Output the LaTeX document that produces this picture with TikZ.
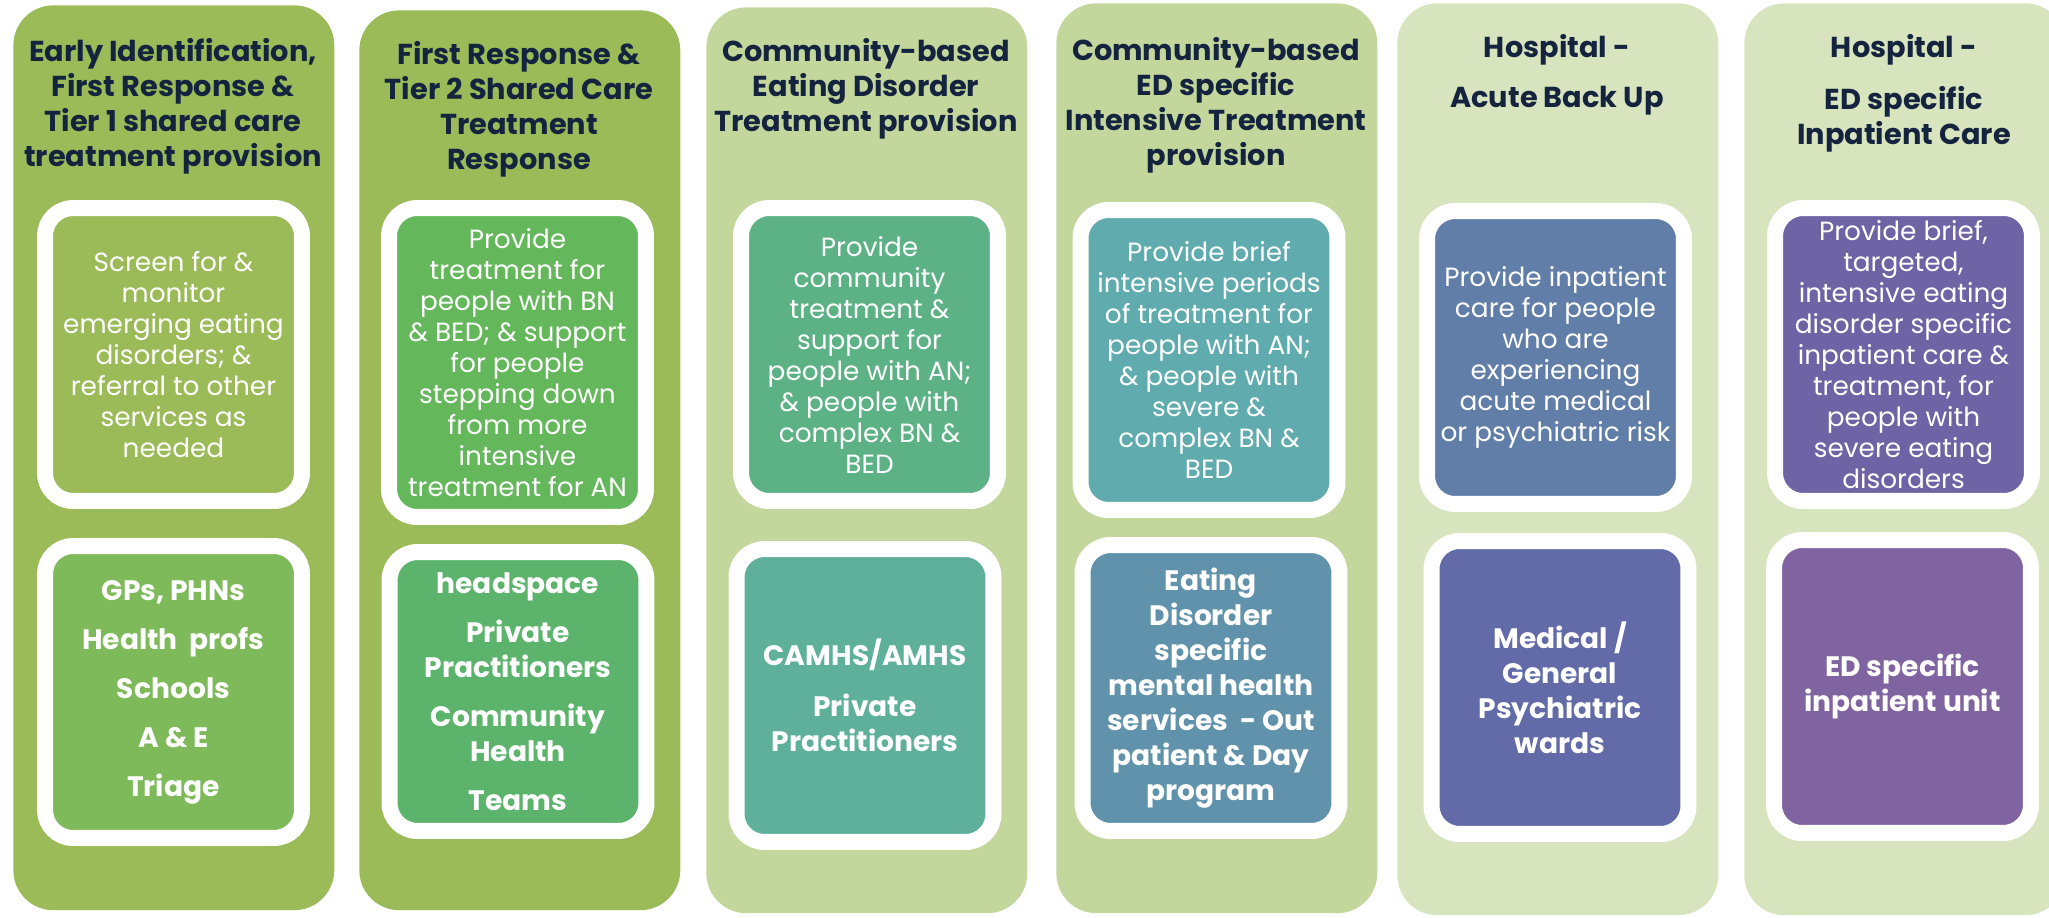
\documentclass[tikz,border=0pt]{standalone}
\usepackage{fontspec}
\setmainfont{Poppins}
\definecolor{navy}{HTML}{14243F}
\definecolor{bgdark}{HTML}{9BBB59}
\definecolor{bgmid}{HTML}{C3D69B}
\definecolor{bglight}{HTML}{D7E4BD}
\definecolor{tone0}{HTML}{9BBB59}
\definecolor{tone1}{HTML}{7EB95A}
\definecolor{tone2}{HTML}{64B75B}
\definecolor{tone3}{HTML}{5CB46C}
\definecolor{tone4}{HTML}{5DB285}
\definecolor{tone5}{HTML}{5EB09B}
\definecolor{tone6}{HTML}{5FABAE}
\definecolor{tone7}{HTML}{6093AB}
\definecolor{tone8}{HTML}{617EA9}
\definecolor{tone9}{HTML}{626AA7}
\definecolor{tone10}{HTML}{6E63A4}
\definecolor{tone11}{HTML}{8064A2}

\begin{document}
\begin{tikzpicture}[x=0.02cm, y=-0.02cm,
    column/.style={anchor=north west, rounded corners=0.8cm, minimum width=6.42cm, inner sep=0},
    heading/.style={text=navy, font=\bfseries\fontsize{16.4}{19.9}\selectfont, align=center, inner sep=0},
    card/.style={draw=white, line width=0.32cm, rounded corners=0.56cm, minimum width=5.14cm,
        text=white, align=center, inner sep=0},
    plaintext/.style={font=\fontsize{15}{17.64}\selectfont},
    boldtext/.style={font=\bfseries\fontsize{16}{19.9}\selectfont}]
    \useasboundingbox (0,0) rectangle (2049,917);
    \clip (0,0) rectangle (2049,917);

    % columns
    \node[column, fill=bgdark, minimum height=18.1cm] (c1) at (13,5) {};
    \node[column, fill=bgdark, minimum height=18.0cm] (c2) at (359,10) {};
    \node[column, fill=bgmid, minimum height=18.12cm] (c3) at (706,7) {};
    \node[column, fill=bgmid, minimum height=18.2cm] (c4) at (1056,3) {};
    \node[column, fill=bglight, minimum height=18.24cm] (c5) at (1397,3) {};
    \node[column, fill=bglight, minimum height=18.24cm] (c6) at (1744,3) {};

    % headings
    \node[heading] (t1) at (173,106) {Early Identification,\\First Response \&\\Tier 1 shared care\\treatment provision};
    \node[heading] (t2) at (519,109) {First Response \&\\Tier 2 Shared Care\\Treatment\\Response};
    \node[heading] (t3) at (866,89) {Community-based\\Eating Disorder\\Treatment provision};
    \node[heading] (t4) at (1216,105) {Community-based\\ED specific\\Intensive Treatment\\provision};
    \node[heading] (t5) at (1557,75) {Hospital -\\[0.3cm]Acute Back Up};
    \node[heading] (t6) at (1904,93) {Hospital -\\[0.34cm]ED specific\\Inpatient Care};

    % what is provided
    \node[card, plaintext, fill=tone0, minimum height=5.86cm] (p1) at (173.5,354.5)
        {Screen for \&\\monitor\\emerging eating\\disorders; \&\\referral to other\\services as\\needed};
    \node[card, plaintext, fill=tone2, minimum height=6.18cm] (p2) at (517.5,362.5)
        {Provide\\treatment for\\people with BN\\\& BED; \& support\\for people\\stepping down\\from more\\intensive\\treatment for AN};
    \node[card, plaintext, fill=tone4, minimum height=5.86cm] (p3) at (869.5,354.5)
        {Provide\\community\\treatment \&\\support for\\people with AN;\\\& people with\\complex BN \&\\BED};
    \node[card, plaintext, fill=tone6, minimum height=6.0cm] (p4) at (1209,360)
        {Provide brief\\intensive periods\\of treatment for\\people with AN;\\\& people with\\severe \&\\complex BN \&\\BED};
    \node[card, plaintext, fill=tone8, minimum height=5.86cm] (p5) at (1555.5,357.5)
        {Provide inpatient\\care for people\\who are\\experiencing\\acute medical\\or psychiatric risk};
    \node[card, plaintext, fill=tone10, minimum height=5.86cm] (p6) at (1903.5,354.5)
        {Provide brief,\\targeted,\\intensive eating\\disorder specific\\inpatient care \&\\treatment, for\\people with\\severe eating\\disorders};

    % who provides it
    \node[card, boldtext, fill=tone1, minimum height=5.84cm] (s1) at (173.5,692)
        {GPs, PHNs\\[0.28cm]Health\ \ profs\\[0.28cm]Schools\\[0.28cm]A \& E\\[0.28cm]Triage};
    \node[card, boldtext, fill=tone3, minimum height=5.58cm] (s2) at (518,691.5)
        {headspace\\[0.28cm]Private\\Practitioners\\[0.28cm]Community\\Health\\[0.28cm]Teams};
    \node[card, boldtext, fill=tone5, minimum height=5.86cm] (s3) at (865,695.5)
        {CAMHS/AMHS\\[0.32cm]Private\\Practitioners};
    \node[card, boldtext, fill=tone7, minimum height=5.72cm] (s4) at (1211,688)
        {Eating\\Disorder\\specific\\mental health\\services\ \ - Out\\patient \& Day\\program};
    \node[card, boldtext, fill=tone9, minimum height=5.86cm] (s5) at (1560,687.5)
        {Medical /\\General\\Psychiatric\\wards};
    \node[card, boldtext, fill=tone11, minimum height=5.86cm] (s6) at (1902.5,686.5)
        {ED specific\\inpatient unit};
\end{tikzpicture}
\end{document}
